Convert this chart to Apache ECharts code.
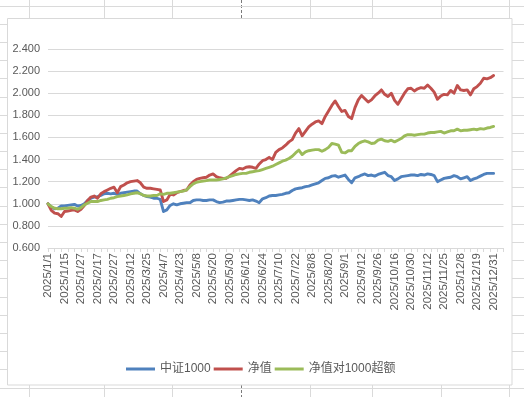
<!DOCTYPE html>
<html>
<head>
<meta charset="utf-8">
<script src="https://cdn.jsdelivr.net/npm/echarts@6/dist/echarts.min.js"></script>
<style>
html,body{margin:0;padding:0;background:#fff;}
#chart{width:524px;height:397px;}
</style>
</head>
<body>
<div id="chart"></div>
<script>
// Categories (trading dates; every 5th is labelled on the axis)
const dates = [
'2025/1/1','2025/1/3','2025/1/7','2025/1/9','2025/1/13',
'2025/1/15','2025/1/17','2025/1/20','2025/1/22','2025/1/24',
'2025/1/27','2025/2/5','2025/2/7','2025/2/11','2025/2/13',
'2025/2/17','2025/2/19','2025/2/21','2025/2/24','2025/2/25',
'2025/2/27','2025/3/3','2025/3/5','2025/3/7','2025/3/10',
'2025/3/12','2025/3/14','2025/3/18','2025/3/20','2025/3/21',
'2025/3/25','2025/3/27','2025/3/31','2025/4/1','2025/4/3',
'2025/4/7','2025/4/9','2025/4/11','2025/4/15','2025/4/18',
'2025/4/23','2025/4/25','2025/4/28','2025/4/30','2025/5/6',
'2025/5/8','2025/5/12','2025/5/14','2025/5/16','2025/5/19',
'2025/5/20','2025/5/22','2025/5/23','2025/5/27','2025/5/28',
'2025/5/30','2025/6/4','2025/6/6','2025/6/9','2025/6/10',
'2025/6/12','2025/6/16','2025/6/18','2025/6/20','2025/6/23',
'2025/6/24','2025/6/27','2025/7/1','2025/7/3','2025/7/8',
'2025/7/10','2025/7/14','2025/7/16','2025/7/18','2025/7/21',
'2025/7/22','2025/7/25','2025/7/29','2025/8/1','2025/8/5',
'2025/8/8','2025/8/12','2025/8/13','2025/8/15','2025/8/18',
'2025/8/20','2025/8/22','2025/8/26','2025/8/27','2025/8/29',
'2025/9/1','2025/9/3','2025/9/5','2025/9/9','2025/9/10',
'2025/9/12','2025/9/16','2025/9/18','2025/9/22','2025/9/24',
'2025/9/26','2025/9/30','2025/10/9','2025/10/13','2025/10/14',
'2025/10/16','2025/10/20','2025/10/22','2025/10/24','2025/10/28',
'2025/10/30','2025/11/3','2025/11/5','2025/11/7','2025/11/10',
'2025/11/12','2025/11/14','2025/11/18','2025/11/19','2025/11/21',
'2025/11/25','2025/11/27','2025/12/1','2025/12/3','2025/12/5',
'2025/12/8','2025/12/10','2025/12/12','2025/12/15','2025/12/17',
'2025/12/19','2025/12/23','2025/12/25','2025/12/26','2025/12/29',
'2025/12/31'
];
// empty trailing categories (axis extends past last date)
const trailing = ['', '', ''];

const seriesNames = ['中证1000', '净值', '净值对1000超额'];

const csi1000 = [
1.00,0.97,0.955,0.96,0.98,
0.98,0.985,0.99,0.995,0.98,
0.985,1.00,1.03,1.05,1.06,
1.065,1.075,1.09,1.095,1.09,
1.095,1.085,1.095,1.10,1.105,
1.11,1.115,1.115,1.09,1.075,
1.065,1.06,1.05,1.05,1.04,
0.93,0.945,0.985,1.00,0.99,
1.00,1.005,1.01,1.01,1.03,
1.035,1.035,1.03,1.03,1.035,
1.035,1.02,1.01,1.015,1.025,
1.025,1.03,1.035,1.04,1.04,
1.035,1.03,1.035,1.025,1.01,
1.045,1.055,1.07,1.075,1.075,
1.08,1.085,1.095,1.10,1.12,
1.135,1.14,1.145,1.155,1.16,
1.17,1.18,1.19,1.21,1.23,
1.235,1.25,1.255,1.24,1.25,
1.26,1.22,1.19,1.235,1.245,
1.26,1.27,1.255,1.26,1.25,
1.265,1.275,1.285,1.255,1.245,
1.21,1.225,1.245,1.25,1.255,
1.26,1.26,1.255,1.265,1.26,
1.27,1.265,1.255,1.20,1.215,
1.23,1.235,1.24,1.255,1.245,
1.225,1.235,1.245,1.21,1.225,
1.235,1.25,1.265,1.275,1.275,
1.275
];

const nav = [
1.00,0.94,0.915,0.91,0.885,
0.93,0.935,0.94,0.945,0.93,
0.95,0.985,1.03,1.06,1.07,
1.05,1.09,1.11,1.125,1.14,
1.15,1.10,1.155,1.17,1.19,
1.20,1.205,1.21,1.19,1.15,
1.14,1.14,1.135,1.13,1.125,
1.02,1.035,1.085,1.08,1.10,
1.11,1.12,1.125,1.17,1.20,
1.22,1.23,1.235,1.24,1.26,
1.27,1.245,1.235,1.23,1.23,
1.25,1.275,1.30,1.32,1.315,
1.33,1.335,1.33,1.32,1.36,
1.39,1.40,1.42,1.40,1.465,
1.49,1.505,1.53,1.56,1.58,
1.64,1.68,1.615,1.655,1.695,
1.72,1.74,1.75,1.725,1.79,
1.84,1.89,1.93,1.88,1.835,
1.845,1.79,1.77,1.87,1.94,
1.98,1.95,1.92,1.94,1.975,
2.00,2.03,1.99,1.97,2.00,
1.935,1.90,1.95,2.00,2.04,
2.045,2.02,2.04,2.05,2.045,
2.075,2.045,2.01,1.945,1.975,
1.99,1.985,2.025,2.00,2.07,
2.03,2.025,2.03,1.985,2.04,
2.06,2.09,2.135,2.13,2.14,
2.16
];

const excess = [
1.00,0.975,0.96,0.955,0.955,
0.96,0.96,0.965,0.96,0.95,
0.965,0.99,1.005,1.02,1.02,
1.02,1.03,1.035,1.04,1.05,
1.055,1.065,1.07,1.075,1.08,
1.09,1.095,1.10,1.09,1.075,
1.07,1.07,1.075,1.075,1.09,
1.085,1.095,1.095,1.10,1.105,
1.11,1.115,1.125,1.155,1.18,
1.195,1.20,1.205,1.21,1.215,
1.215,1.215,1.22,1.225,1.235,
1.245,1.255,1.265,1.27,1.275,
1.275,1.285,1.29,1.295,1.30,
1.31,1.32,1.33,1.34,1.355,
1.37,1.385,1.395,1.41,1.43,
1.46,1.485,1.445,1.47,1.48,
1.485,1.49,1.49,1.475,1.49,
1.51,1.545,1.54,1.53,1.465,
1.46,1.48,1.48,1.52,1.545,
1.56,1.57,1.56,1.545,1.55,
1.575,1.585,1.57,1.565,1.575,
1.56,1.575,1.59,1.615,1.625,
1.625,1.62,1.625,1.63,1.63,
1.64,1.645,1.645,1.65,1.655,
1.64,1.65,1.66,1.66,1.675,
1.66,1.665,1.665,1.67,1.675,
1.67,1.68,1.675,1.685,1.69,
1.70
];

const yMin = 0.6, yMax = 2.4, yStep = 0.2;
const colors = ['#4F81BD', '#C0504D', '#9BBB59'];

// spreadsheet background decoration
const bg = [];
const colX = [29.5, 104.5, 172.5, 310.5, 372.5, 441.5, 509.5];
colX.forEach(x => bg.push({type:'line', z:-3, shape:{x1:x,y1:0,x2:x,y2:397}, style:{stroke:'#dadada', lineWidth:1}}));
bg.push({type:'line', z:-3, shape:{x1:241.5,y1:0,x2:241.5,y2:397}, style:{stroke:'#7a7a7a', lineWidth:1, lineDash:[3,2]}});
for (let y = 5.5; y < 397; y += 18.2) {
  const yy = Math.round(y) + 0.5;
  bg.push({type:'line', z:-3, shape:{x1:0,y1:yy,x2:524,y2:yy}, style:{stroke:'#dadada', lineWidth:1}});
}
bg.push({type:'rect', z:-2, shape:{x:7.5,y:18.5,width:504.5,height:366.5}, style:{fill:'#ffffff', stroke:'#d9d9d9', lineWidth:1}});

const chart = echarts.init(document.getElementById('chart'), null, {renderer:'canvas'});
const font = "'Liberation Sans', 'Noto Sans CJK SC', sans-serif";
chart.setOption({
  animation: false,
  color: colors,
  graphic: bg,
  grid: {left: 48, right: 20.5, top: 49, bottom: 149, containLabel: false},
  legend: {
    data: seriesNames,
    left: 121, top: 358,
    icon: 'rect', itemWidth: 29, itemHeight: 3, itemGap: 3,
    textStyle: {fontSize: 12, color: '#595959', fontFamily: font}
  },
  xAxis: {
    type: 'category',
    data: dates.concat(trailing),
    boundaryGap: false,
    axisLine: {lineStyle: {color: '#d9d9d9', width: 1}},
    axisTick: {show: true, interval: 1, length: 4, lineStyle: {color: '#d9d9d9'}},
    axisLabel: {interval: 4, rotate: 90, margin: 5, fontSize: 11.5, color: '#595959', fontFamily: font},
    splitLine: {show: false}
  },
  yAxis: {
    type: 'value',
    min: yMin, max: yMax, interval: yStep,
    axisLine: {show: false},
    axisTick: {show: false},
    axisLabel: {formatter: v => v.toFixed(3), fontSize: 11, color: '#595959', margin: 8, fontFamily: font},
    splitLine: {lineStyle: {color: '#d9d9d9', width: 1}}
  },
  series: [
    {name: seriesNames[0], type: 'line', data: csi1000, showSymbol: false, symbol: 'none', lineStyle: {width: 2.9, join: 'round', cap: 'round'}},
    {name: seriesNames[1], type: 'line', data: nav, showSymbol: false, symbol: 'none', lineStyle: {width: 2.9, join: 'round', cap: 'round'}},
    {name: seriesNames[2], type: 'line', data: excess, showSymbol: false, symbol: 'none', lineStyle: {width: 2.9, join: 'round', cap: 'round'}}
  ]
});
</script>
</body>
</html>
